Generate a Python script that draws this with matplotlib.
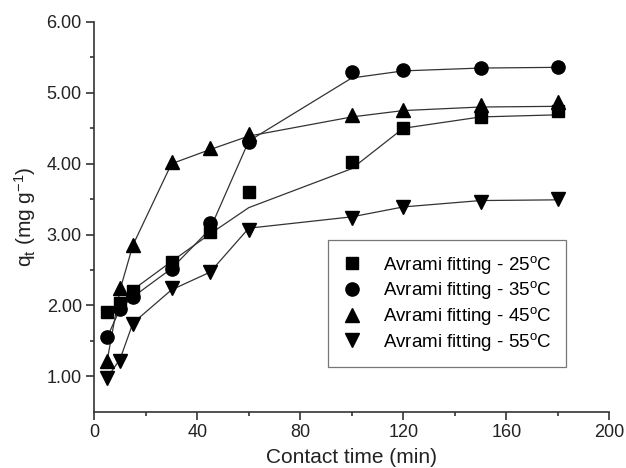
import numpy as np
import matplotlib
matplotlib.use('Agg')
import matplotlib.pyplot as plt

plt.rcParams['font.family'] = ['Liberation Sans', 'DejaVu Sans']
plt.rcParams['mathtext.fontset'] = 'custom'
plt.rcParams['mathtext.rm'] = 'Liberation Sans'
plt.rcParams['mathtext.it'] = 'Liberation Sans:italic'

# contact time (min)
t = [5, 10, 15, 30, 45, 60, 100, 120, 150, 180]

# measured q_t (mg/g)
q25 = [1.91, 2.04, 2.21, 2.61, 3.03, 3.60, 4.02, 4.51, 4.66, 4.75]
q35 = [1.55, 1.95, 2.12, 2.52, 3.16, 4.30, 5.30, 5.32, 5.35, 5.37]
q45 = [1.22, 2.24, 2.85, 4.02, 4.22, 4.42, 4.69, 4.76, 4.83, 4.87]
q55 = [0.98, 1.22, 1.74, 2.24, 2.47, 3.07, 3.24, 3.39, 3.46, 3.50]

# Avrami fit curves
fit25 = [1.90, 2.02, 2.22, 2.62, 3.01, 3.38, 3.93, 4.50, 4.66, 4.69]
fit35 = [1.55, 1.95, 2.12, 2.52, 3.08, 4.32, 5.21, 5.31, 5.35, 5.36]
fit45 = [1.22, 2.22, 2.85, 4.00, 4.20, 4.39, 4.66, 4.75, 4.80, 4.81]
fit55 = [0.98, 1.24, 1.75, 2.22, 2.47, 3.09, 3.25, 3.39, 3.48, 3.49]

labels = ['Avrami fitting - 25$^{\\mathrm{o}}$C', 'Avrami fitting - 35$^{\\mathrm{o}}$C',
          'Avrami fitting - 45$^{\\mathrm{o}}$C', 'Avrami fitting - 55$^{\\mathrm{o}}$C']

fig = plt.figure(figsize=(6.26, 4.68), dpi=100)
ax = fig.add_axes([0.1506, 0.1203, 0.8227, 0.8327])

gray = '#333333'
for fit in [fit25, fit35, fit45, fit55]:
    ax.plot(t, fit, color=gray, lw=0.9, zorder=2)

ax.plot(t, q25, ls='none', marker='s', ms=8.8, color='black', label=labels[0], zorder=3)
ax.plot(t, q35, ls='none', marker='o', ms=9.5, color='black', label=labels[1], zorder=3)
ax.plot(t, q45, ls='none', marker='^', ms=10.5, color='black', label=labels[2], zorder=3)
ax.plot(t, q55, ls='none', marker='v', ms=10.5, color='black', label=labels[3], zorder=3)

ax.set_xlim(0, 200)
ax.set_ylim(0.5, 6.0)
ax.set_xticks([0, 40, 80, 120, 160, 200])
ax.set_xticks([20, 60, 100, 140, 180], minor=True)
ax.set_yticks([1, 2, 3, 4, 5, 6])
ax.set_yticks([1.5, 2.5, 3.5, 4.5, 5.5], minor=True)
ax.set_yticklabels(['%.2f' % v for v in [1, 2, 3, 4, 5, 6]])

for s in ['top', 'right']:
    ax.spines[s].set_visible(False)
for s in ['left', 'bottom']:
    ax.spines[s].set_color(gray)
    ax.spines[s].set_linewidth(1.2)

ax.tick_params(which='major', length=6, width=1.2, color=gray, labelsize=13,
               labelcolor='#222222', pad=3)
ax.tick_params(which='minor', length=3, width=1.2, color=gray)

ax.set_xlabel('Contact time (min)', fontsize=15, color='#222222', labelpad=5)
ax.set_ylabel('q$_{\\mathrm{t}}$ (mg g$^{\\mathrm{-1}}$)', fontsize=15, color='#222222', labelpad=6)

leg = ax.legend(loc='lower left', bbox_to_anchor=(0.454, 0.115), fontsize=13.5,
                frameon=True, fancybox=False, edgecolor='#555555', handlelength=1.0,
                handletextpad=1.2, labelspacing=0.2, borderpad=0.75, borderaxespad=0)
leg.get_frame().set_linewidth(0.9)

fig.savefig('out.png', dpi=100)
